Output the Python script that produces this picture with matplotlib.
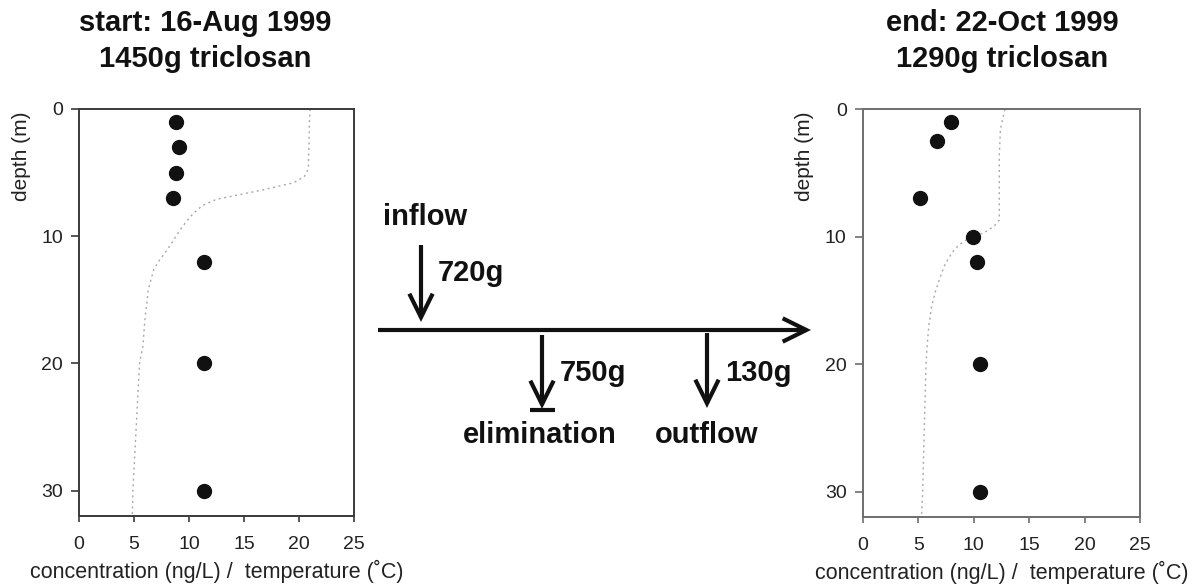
import numpy as np
import matplotlib
matplotlib.use('Agg')
import matplotlib.pyplot as plt

plt.rcParams['font.family'] = ['Liberation Sans', 'DejaVu Sans']

# start profile (16-Aug 1999)
start_depth = [1, 3, 5, 7, 12, 20, 30]
start_conc = [8.8, 9.1, 8.85, 8.5, 11.4, 11.4, 11.4]
start_temp_depth = [0, 1, 3, 4.7, 5.3, 5.8, 6.4, 7.1, 7.6, 8.2, 8.8, 9.5, 10.3, 11.1, 11.9, 12.6,
                    14.2, 16.5, 18.7, 20, 25, 30, 32]
start_temp = [21.0, 20.95, 20.9, 20.85, 20.5, 19.5, 16.5, 12.5, 11.2, 10.4, 9.8, 9.2, 8.6, 8.0,
              7.3, 6.8, 6.3, 6.0, 5.8, 5.5, 5.2, 4.9, 4.85]

# end profile (22-Oct 1999)
end_depth = [1, 2.5, 7, 10, 12, 20, 30]
end_conc = [7.95, 6.7, 5.2, 9.9, 10.3, 10.6, 10.6]
end_temp_depth = [0, 1.6, 3.7, 8.7, 9.2, 9.7, 10.2, 10.7, 11.3, 12.2, 13.1, 14.3, 15.5, 17, 18.6,
                  20, 25, 30, 32]
end_temp = [12.8, 12.4, 12.3, 12.3, 11.8, 10.9, 9.4, 8.6, 8.0, 7.4, 7.0, 6.55, 6.2, 5.95, 5.8,
            5.7, 5.55, 5.4, 5.3]

titles = ['start: 16-Aug 1999\n1450g triclosan', 'end: 22-Oct 1999\n1290g triclosan']

# mass balance between the two dates (g)
flow_names = ['inflow', 'elimination', 'outflow']
flow_mass = [720, 750, 130]

W, H = 1195, 588
fig = plt.figure(figsize=(W / 100, H / 100), dpi=100)


def profile(rect, depth, conc, tdepth, temp, title, spine_col, title_x):
    ax = fig.add_axes(rect)
    ax.plot(temp, tdepth, color='#aaaaaa', lw=1.0, ls=(0, (1.5, 2.5)), zorder=1)
    ax.plot(conc, depth, 'o', color='#111111', ms=10, zorder=2)
    ax.set_xlim(0, 25)
    ax.set_ylim(32, 0)
    ax.set_xticks([0, 5, 10, 15, 20, 25])
    ax.set_yticks([0, 10, 20, 30])
    for s in ax.spines.values():
        s.set_color(spine_col)
        s.set_linewidth(1.4)
    ax.tick_params(axis='x', direction='out', length=4.5, width=1.2, color=spine_col,
                   labelsize=14, pad=10, labelcolor='#222222')
    ax.tick_params(axis='y', direction='out', length=5.5, width=1.2, color=spine_col,
                   labelsize=14, pad=6, labelcolor='#222222')
    ax.set_xlabel('concentration (ng/L) /  temperature (˚C)', fontsize=15.5,
                  color='#222222', labelpad=5)
    ax.text(-0.208, 0.885, 'depth (m)', transform=ax.transAxes, rotation=90,
            ha='center', va='center', fontsize=15, color='#222222')
    fig.text(title_x / W, 1 - 41 / H, title, ha='center', va='center',
             fontsize=21, fontweight='bold', linespacing=1.4, color='#111111')
    return ax


profile([79 / W, 1 - 516 / H, 275 / W, 407 / H], start_depth, start_conc,
        start_temp_depth, start_temp, titles[0], '#3a3a3a', 205)
profile([862.7 / W, 1 - 517 / H, 277.6 / W, 407.7 / H], end_depth, end_conc,
        end_temp_depth, end_temp, titles[1], '#6e6e6e', 1002)

# flow diagram in the middle, drawn in pixel space
ax0 = fig.add_axes([0, 0, 1, 1], zorder=-1)
ax0.set_xlim(0, W)
ax0.set_ylim(H, 0)
ax0.axis('off')

arrow = dict(arrowstyle='->,head_length=0.85,head_width=0.42', lw=3.0,
             color='#111111', mutation_scale=20, shrinkA=0, shrinkB=0,
             capstyle='butt', joinstyle='miter')
ax0.annotate('', xy=(811, 330), xytext=(378, 330), arrowprops=arrow)
ax0.annotate('', xy=(421, 322), xytext=(421, 245), arrowprops=arrow)
ax0.annotate('', xy=(542, 409), xytext=(542, 335), arrowprops=arrow)
ax0.annotate('', xy=(707, 408), xytext=(707, 333), arrowprops=arrow)
ax0.plot([530, 555], [410, 410], color='#111111', lw=3.0, solid_capstyle='butt')

tkw = dict(fontsize=21, fontweight='bold', color='#111111', va='center')
ax0.text(383, 217, flow_names[0], ha='left', **tkw)
ax0.text(438, 273, f'{flow_mass[0]}g', ha='left', **tkw)
ax0.text(560, 373, f'{flow_mass[1]}g', ha='left', **tkw)
ax0.text(725, 373, f'{flow_mass[2]}g', ha='left', **tkw)
ax0.text(540, 435, flow_names[1], ha='center', **tkw)
ax0.text(707, 435, flow_names[2], ha='center', **tkw)

fig.savefig('out.png', dpi=100)
